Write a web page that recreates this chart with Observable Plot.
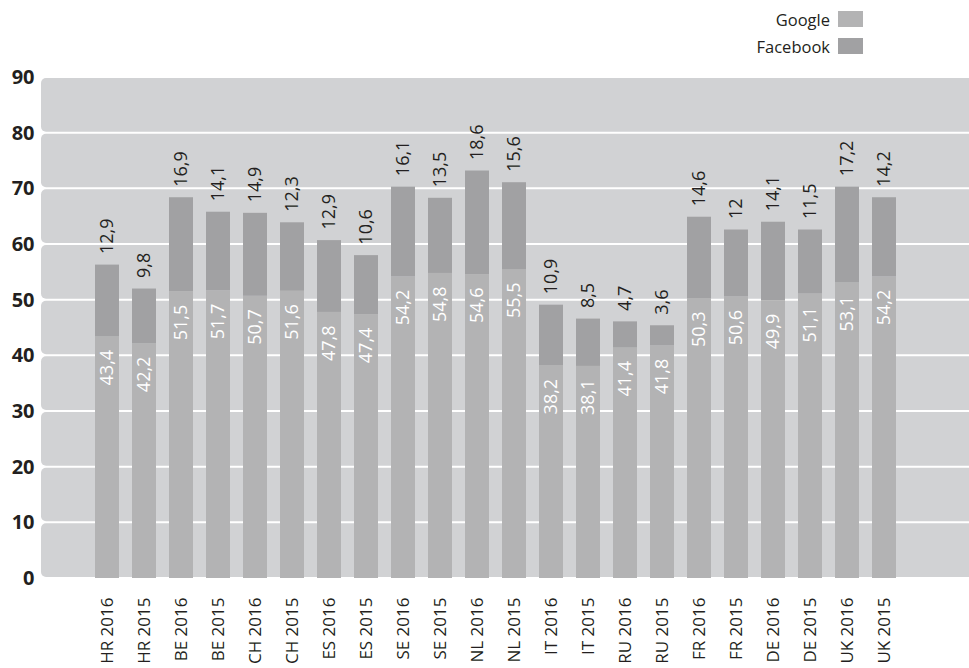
<!DOCTYPE html>
<html>
<head>
<meta charset="utf-8">
<script src="https://cdn.jsdelivr.net/npm/d3@7"></script>
<script src="https://cdn.jsdelivr.net/npm/@observablehq/plot@0.6"></script>
<style>
  html, body { margin: 0; padding: 0; background: #fff; }
  body { width: 969px; height: 668px; overflow: hidden; font-family: "Open Sans", "Noto Sans", sans-serif; color: #231f20; }
  #legend { height: 60px; position: relative; }
  .row { position: absolute; right: 106px; display: flex; align-items: center; font-size: 16.5px; }
  .sw { width: 25px; height: 16px; margin-left: 8px; }
</style>
</head>
<body>
<div id="legend"></div>
<div id="chart"></div>
<script>
const categories = ["HR 2016","HR 2015","BE 2016","BE 2015","CH 2016","CH 2015","ES 2016","ES 2015","SE 2016","SE 2015","NL 2016","NL 2015","IT 2016","IT 2015","RU 2016","RU 2015","FR 2016","FR 2015","DE 2016","DE 2015","UK 2016","UK 2015"];
const google =   [43.4,42.2,51.5,51.7,50.7,51.6,47.8,47.4,54.2,54.8,54.6,55.5,38.2,38.1,41.4,41.8,50.3,50.6,49.9,51.1,53.1,54.2];
const facebook = [12.9,9.8,16.9,14.1,14.9,12.3,12.9,10.6,16.1,13.5,18.6,15.6,10.9,8.5,4.7,3.6,14.6,12,14.1,11.5,17.2,14.2];
const seriesNames = ["Google", "Facebook"];
const seriesColors = ["#b3b3b4", "#a1a1a3"];
const yTicks = [0,10,20,30,40,50,60,70,80,90];

const fmt = v => String(v).replace(".", ",");

const rows = [];
categories.forEach((c, i) => {
  rows.push({cat: c, series: "Google", value: google[i]});
  rows.push({cat: c, series: "Facebook", value: facebook[i]});
});
const labels = categories.map((c, i) => ({cat: c, g: google[i], f: facebook[i], top: google[i] + facebook[i]}));
const bands = yTicks.slice(0, -1).map((t, i) => ({y1: t, y2: yTicks[i + 1]}));

// legend
const leg = document.getElementById("legend");
seriesNames.forEach((s, i) => {
  const r = document.createElement("div");
  r.className = "row";
  r.style.top = (11 + i * 27) + "px";
  r.style.height = "16px";
  r.innerHTML = `<span>${s}</span><span class="sw" style="background:${seriesColors[i]}"></span>`;
  leg.appendChild(r);
});

const ML = 87, MR = 65;
const chart = Plot.plot({
  width: 969,
  height: 608,
  marginTop: 17,
  marginBottom: 90,
  marginLeft: ML,
  marginRight: MR,
  style: {fontFamily: '"Open Sans", "Noto Sans", sans-serif', color: "#231f20", background: "transparent"},
  x: {domain: categories, padding: 0.364, paddingOuter: 0, label: null},
  y: {domain: [0, 90], label: null},
  color: {domain: seriesNames, range: seriesColors},
  marks: [
    Plot.rectY(bands, {y1: "y1", y2: "y2", fill: "#d1d2d4", insetLeft: -(ML - 41), insetRight: -(MR + 20), insetTop: 1, insetBottom: 1, rx: 5}),
    Plot.barY(rows, {x: "cat", y: "value", fill: "series"}),
    Plot.text(labels, {x: "cat", y: "g", text: d => fmt(d.g), rotate: -90, textAnchor: "end", dy: 13, fill: "white", fontSize: 18}),
    Plot.text(labels, {x: "cat", y: "top", text: d => fmt(d.f), rotate: -90, textAnchor: "start", dy: -11, fill: "#231f20", fontSize: 18}),
    Plot.axisY({ticks: yTicks, tickSize: 0, tickPadding: ML - 34, fontSize: 20, fontWeight: "bold", label: null}),
    Plot.axisX({tickSize: 0, tickRotate: -90, tickPadding: 19, fontSize: 17, label: null})
  ]
});
document.getElementById("chart").appendChild(chart);
</script>
</body>
</html>
